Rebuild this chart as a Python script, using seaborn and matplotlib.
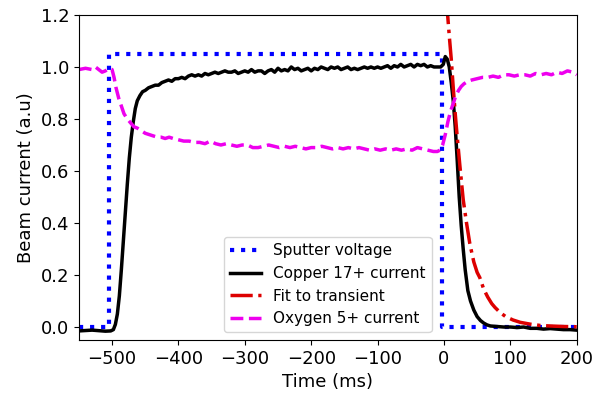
import matplotlib
matplotlib.use("Agg")
import matplotlib.pyplot as plt
import seaborn as sns
import pandas as pd

volt_t = [-550, -505, -505, -3, -3, 200]
volt_v = [0.0, 0.0, 1.05, 1.05, 0.0, 0.0]

cu_t = [-550, -530, -510, -502, -498, -495, -492, -489, -486, -483, -480, -477, -474, -471, -468, -465,
        -462, -458, -454, -450, -445, -440, -435, -430, -425, -420, -415, -410, -405, -400, -395, -390,
        -385, -380, -375, -370, -365, -360, -355, -350, -345, -340, -335, -330, -325, -320, -315, -310,
        -305, -300, -295, -290, -285, -280, -275, -270, -265, -260, -255, -250, -245, -240, -235, -230,
        -225, -220, -215, -210, -205, -200, -195, -190, -185, -180, -175, -170, -165, -160, -155, -150,
        -145, -140, -135, -130, -125, -120, -115, -110, -105, -100, -95, -90, -85, -80, -75, -70, -65,
        -60, -55, -50, -45, -40, -35, -30, -25, -20, -15, -10, -5, -1, 2, 5, 8, 11, 14, 17, 20, 23, 26,
        29, 32, 36, 40, 45, 50, 55, 60, 65, 70, 80, 90, 100, 110, 120, 130, 140, 150, 160, 170, 180, 190, 200]
cu_v = [-0.015, -0.012, -0.016, -0.015, -0.01, 0.01, 0.05, 0.12, 0.22, 0.33, 0.44, 0.55, 0.65, 0.73, 0.79, 0.84,
        0.87, 0.89, 0.905, 0.91, 0.92, 0.925, 0.93, 0.93, 0.94, 0.945, 0.95, 0.945, 0.955, 0.955, 0.96, 0.955,
        0.965, 0.97, 0.965, 0.97, 0.965, 0.975, 0.97, 0.975, 0.98, 0.975, 0.98, 0.985, 0.98, 0.98, 0.985, 0.975,
        0.98, 0.985, 0.98, 0.99, 0.98, 0.985, 0.985, 0.975, 0.985, 0.99, 0.98, 0.995, 0.985, 0.99, 0.985, 1.0,
        0.99, 0.995, 0.985, 0.99, 0.995, 0.985, 0.995, 0.99, 1.0, 0.995, 0.99, 1.0, 0.995, 1.0, 0.99, 0.995,
        1.0, 0.99, 0.995, 0.99, 0.995, 1.0, 0.995, 1.0, 0.995, 1.0, 0.995, 1.0, 1.005, 0.995, 1.005, 1.0, 1.01,
        1.0, 1.005, 1.01, 1.0, 1.01, 1.005, 1.01, 1.0, 1.005, 1.0, 1.0, 1.0, 1.01, 1.04, 1.03, 1.0, 0.94, 0.87, 0.77, 0.64, 0.5, 0.39,
        0.3, 0.22, 0.14, 0.1, 0.065, 0.04, 0.025, 0.015, 0.008, 0.004, 0.002, 0.0, 0.0, -0.002, 0.0, -0.005, -0.005, -0.008, -0.006, -0.008, -0.01, -0.01, -0.012]

fit_t = [4, 8, 11, 14, 17, 20, 24, 29, 34, 39, 45, 50, 54, 60, 66, 72, 77, 85, 93, 104, 115, 130, 145, 160, 180, 200]
fit_v = [1.25, 1.12, 1.03, 0.92, 0.82, 0.73, 0.62, 0.49, 0.40, 0.32, 0.25, 0.21, 0.19, 0.145, 0.115, 0.09,
         0.075, 0.055, 0.04, 0.027, 0.018, 0.011, 0.006, 0.004, 0.002, 0.001]

ox_t = [-550, -540, -530, -525, -520, -515, -510, -505, -500, -497, -494, -490, -486, -482, -477, -472, -467,
        -462, -456, -450, -444, -438, -432, -426, -420, -414, -408, -400, -392, -384, -376, -368, -360, -352,
        -344, -336, -328, -320, -312, -304, -296, -288, -280, -272, -264, -256, -248, -240, -232, -224, -216,
        -208, -200, -192, -184, -176, -168, -160, -152, -144, -136, -128, -120, -112, -104, -96, -88, -80, -72,
        -64, -56, -48, -40, -32, -24, -16, -10, -6, -2, 2, 6, 10, 14, 18, 22, 26, 30, 36, 42, 50, 58, 66, 74,
        82, 90, 98, 106, 114, 122, 130, 138, 146, 154, 162, 170, 178, 186, 194, 200]
ox_v = [0.99, 0.995, 0.99, 1.0, 0.99, 0.98, 0.985, 0.995, 0.99, 0.96, 0.92, 0.88, 0.85, 0.82, 0.80, 0.785, 0.77,
        0.765, 0.755, 0.745, 0.74, 0.735, 0.73, 0.73, 0.725, 0.73, 0.725, 0.72, 0.715, 0.715, 0.71, 0.71, 0.705, 0.715,
        0.705, 0.70, 0.705, 0.70, 0.695, 0.70, 0.70, 0.69, 0.69, 0.695, 0.70, 0.695, 0.69, 0.695, 0.69, 0.695, 0.69,
        0.685, 0.69, 0.69, 0.695, 0.69, 0.685, 0.69, 0.685, 0.69, 0.685, 0.69, 0.685, 0.68, 0.685, 0.68, 0.685, 0.68, 0.685,
        0.68, 0.685, 0.68, 0.69, 0.685, 0.68, 0.675, 0.675, 0.68, 0.70, 0.74, 0.79, 0.83, 0.86, 0.89, 0.91, 0.925, 0.935, 0.945, 0.95, 0.955, 0.96, 0.96, 0.965,
        0.96, 0.97, 0.97, 0.965, 0.97, 0.97, 0.965, 0.975, 0.97, 0.975, 0.97, 0.98, 0.975, 0.985, 0.98, 0.97]

fig = plt.figure(figsize=(6.02, 3.94), dpi=100)
ax = fig.add_axes([0.131, 0.137, 0.827, 0.825])

lw = 2.5
sns.lineplot(x=volt_t, y=volt_v, ax=ax, color="blue", linestyle=":", linewidth=3, sort=False,
             estimator=None, label="Sputter voltage")
sns.lineplot(x=cu_t, y=cu_v, ax=ax, color="black", linestyle="-", linewidth=lw, sort=False,
             estimator=None, label="Copper 17+ current")
sns.lineplot(x=fit_t, y=fit_v, ax=ax, color="#dd0000", linestyle="-.", linewidth=lw, sort=False,
             estimator=None, label="Fit to transient")
sns.lineplot(x=ox_t, y=ox_v, ax=ax, color="#ee00ee", linestyle="--", linewidth=lw, sort=False,
             estimator=None, label="Oxygen 5+ current")

ax.set_xlim(-550, 200)
ax.set_ylim(-0.05, 1.2)
ax.set_xticks([-500, -400, -300, -200, -100, 0, 100, 200])
ax.set_yticks([0.0, 0.2, 0.4, 0.6, 0.8, 1.0, 1.2])
ax.set_yticklabels(["0.0", "0.2", "0.4", "0.6", "0.8", "1.0", "1.2"])
ax.tick_params(labelsize=13)
ax.set_xlabel("Time (ms)", fontsize=13)
ax.set_ylabel("Beam current (a.u)", fontsize=13)
ax.legend(loc="lower center", fontsize=11)

fig.savefig("out.png", dpi=100)
